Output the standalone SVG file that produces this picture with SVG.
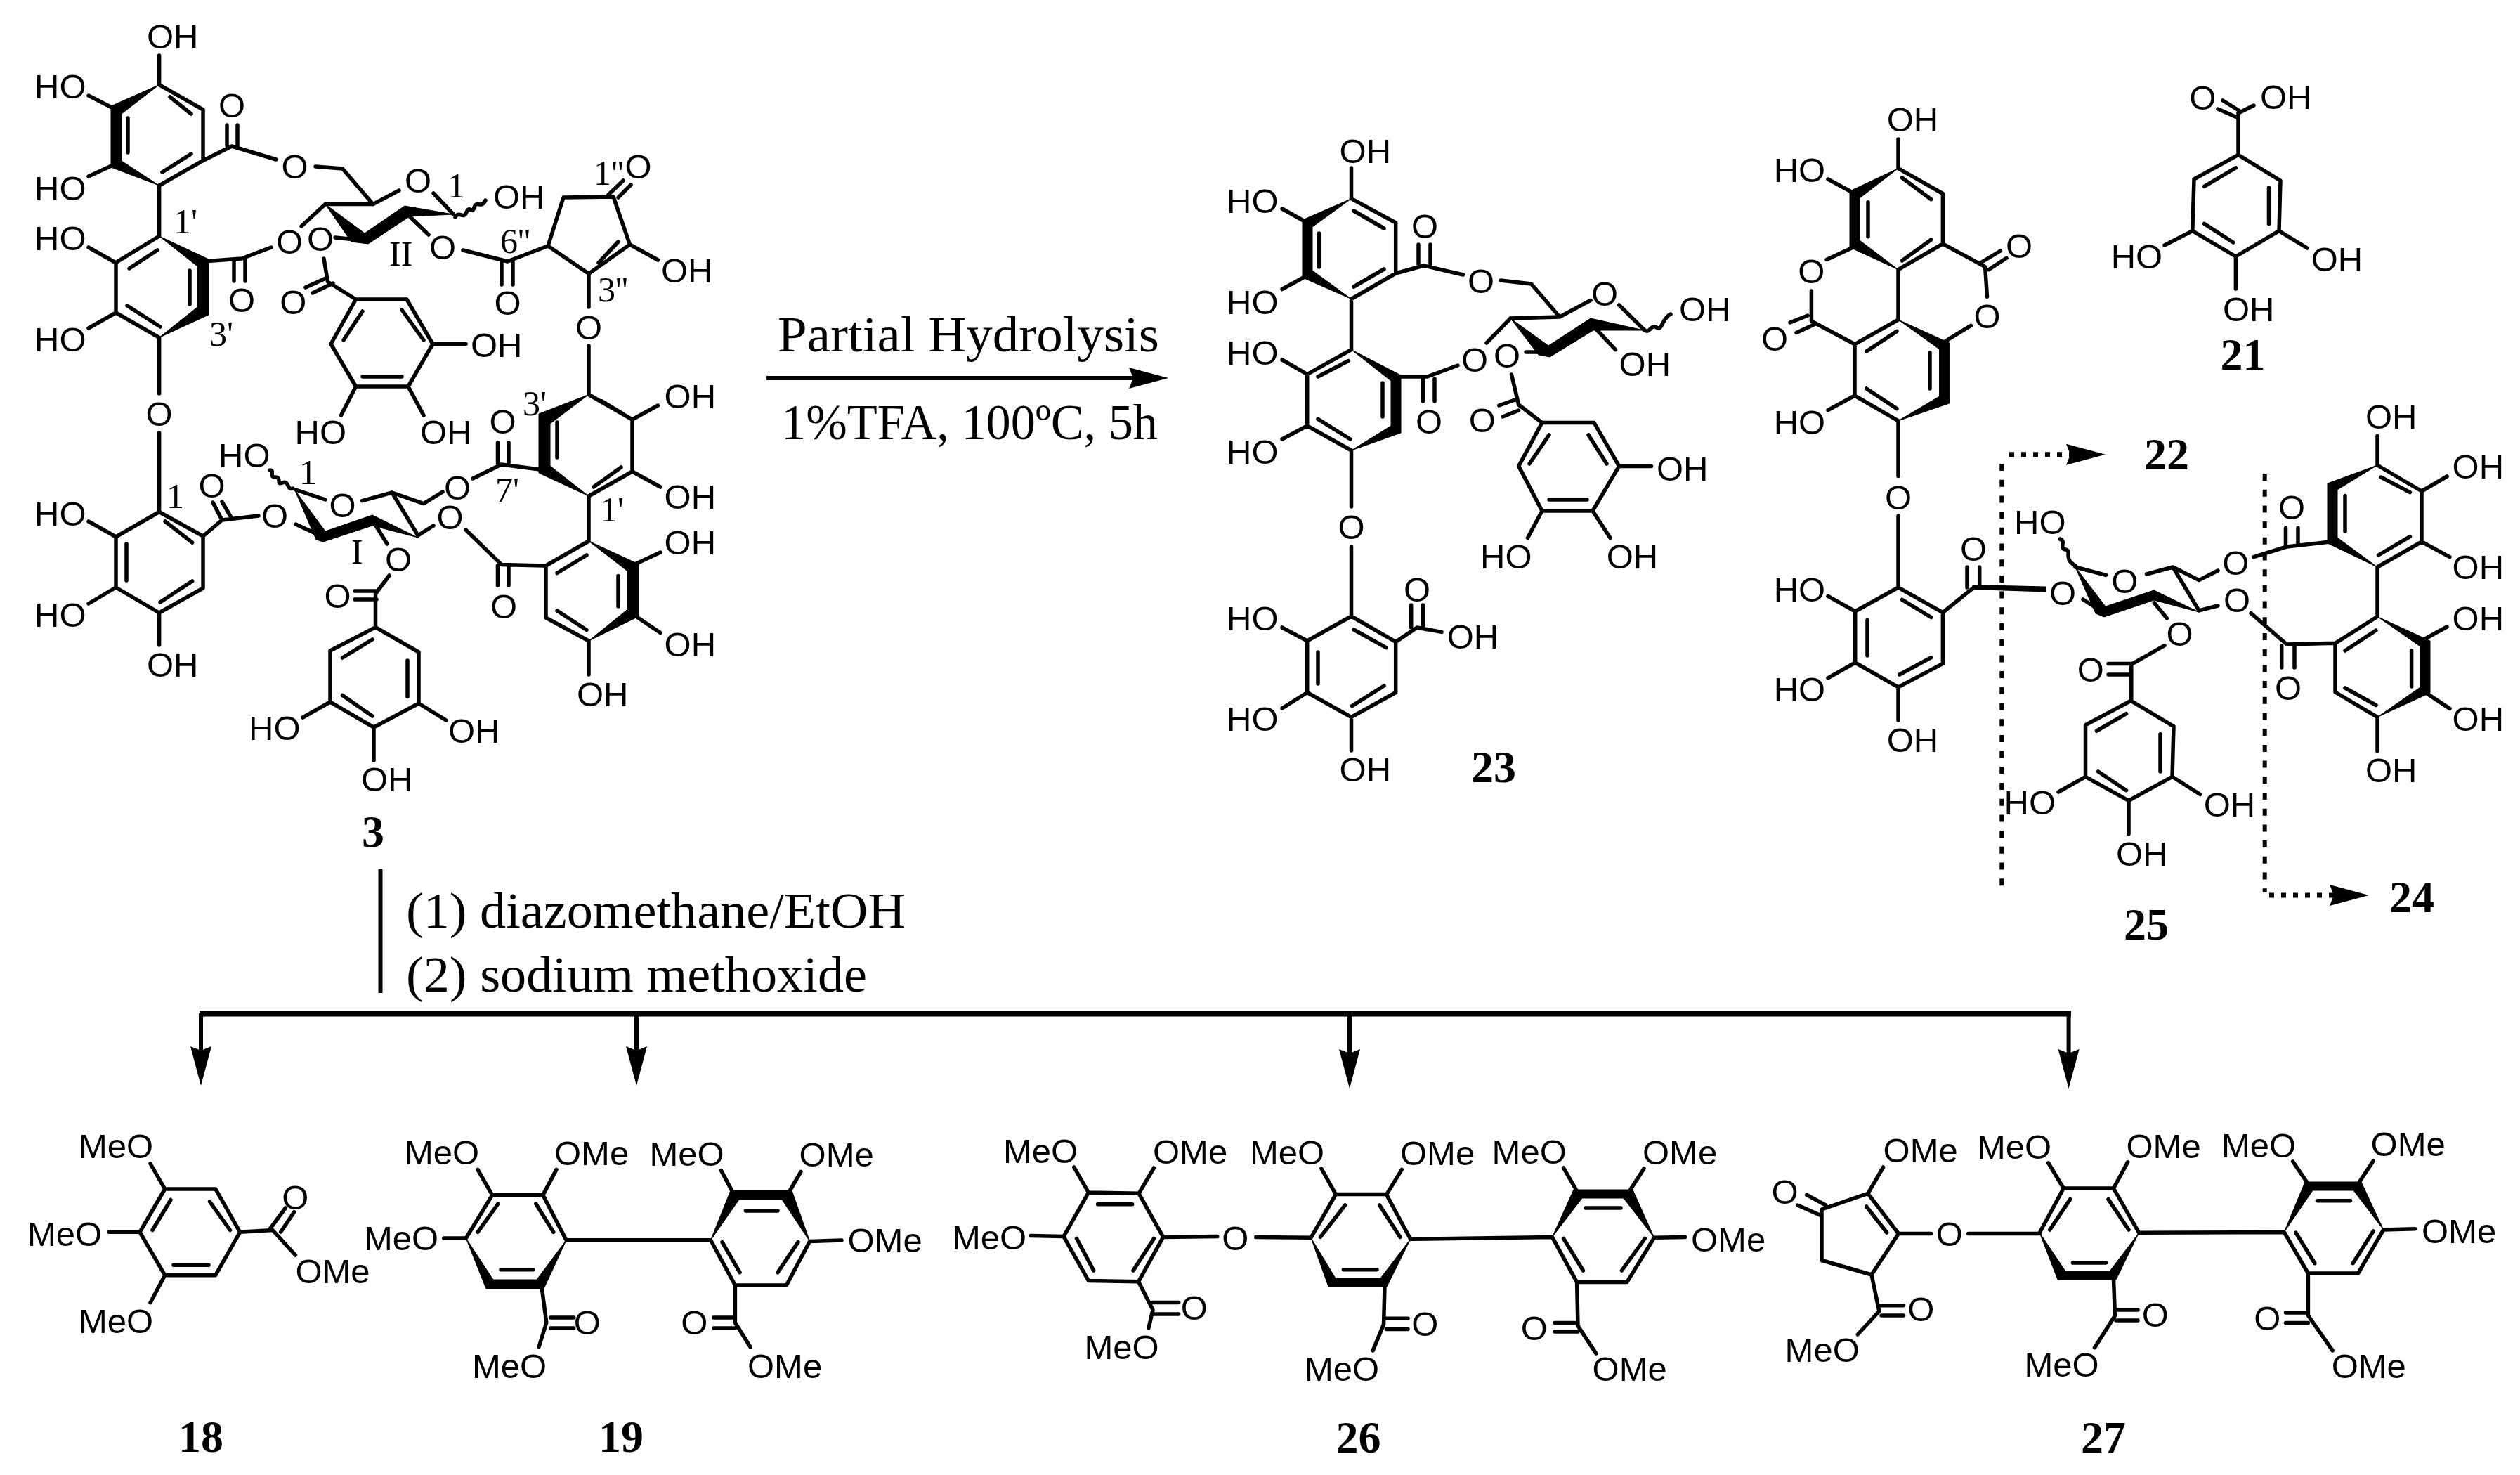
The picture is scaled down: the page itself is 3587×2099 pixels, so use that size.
<svg xmlns="http://www.w3.org/2000/svg" width="3587" height="2099" viewBox="0 0 3587 2099">
<style>
.b{fill:none;stroke:#000;stroke-width:5.5;stroke-linecap:round;stroke-linejoin:round}
.w{fill:#000;stroke:#000;stroke-width:1;stroke-linejoin:miter}
text{fill:#000}
.s{font-family:"Liberation Sans",Arial,sans-serif;font-size:49px}
.o{font-family:"Liberation Sans",Arial,sans-serif;font-size:49px;text-anchor:middle}
.l{font-family:"Liberation Serif","Times New Roman",serif;font-size:50px}
.n{font-family:"Liberation Serif","Times New Roman",serif;font-size:64px;font-weight:bold;text-anchor:middle}
.r{font-family:"Liberation Serif","Times New Roman",serif;font-size:72px}
.a{fill:none;stroke:#000;stroke-width:6;marker-end:url(#h)}
.d{fill:none;stroke:#000;stroke-width:6;stroke-dasharray:10 12.7}
.p{fill:none;stroke:#000;stroke-width:7;stroke-dasharray:7 10;marker-end:url(#h)}
</style>
<defs>
<marker id="h" markerUnits="userSpaceOnUse" markerWidth="60" markerHeight="34" refX="6" refY="17" orient="auto" overflow="visible"><path d="M0 2 L56 17 L0 32 L6 17 Z" fill="#000"/></marker>
</defs>

<g id="connectors">
<path class="a" d="M1091 538 H1613"/>
<path d="M541.5 1237 V1413" fill="none" stroke="#000" stroke-width="6"/>
<path d="M284 1442.5 H2948" fill="none" stroke="#000" stroke-width="8"/>
<path class="a" d="M286 1442 V1495"/>
<path class="a" d="M906 1442 V1495"/>
<path class="a" d="M1921 1442 V1499"/>
<path class="a" d="M2944.6 1442 V1499"/>
<path class="d" d="M2849.3 660 V1265"/>
<path class="d" d="M3223.7 674 V1270"/>
<path class="p" d="M2860 646.7 H2947"/>
<path class="p" d="M3230 1274 H3322"/>
</g>

<g id="reaction-labels">
<text class="r" x="1107" y="500" textLength="543" lengthAdjust="spacingAndGlyphs">Partial Hydrolysis</text>
<text class="r" x="1112" y="625" textLength="536" lengthAdjust="spacingAndGlyphs">1%TFA, 100ºC, 5h</text>
<text class="r" x="578" y="1320" textLength="711" lengthAdjust="spacingAndGlyphs">(1) diazomethane/EtOH</text>
<text class="r" x="578" y="1411" textLength="656" lengthAdjust="spacingAndGlyphs">(2) sodium methoxide</text>
</g>

<g id="compound-3">
<path class="b" d="M226.6 120.6L289 156V228.5L226.6 264M242 138L272 162M182 168V217M231 245L272 219M226.6 79V120.6M126 136L165 156M126 251L165 233M289 228.5L330 208L393 227M323 178V207M338 178V207M449 237L487.5 240L531 290.6L568 271M463 290.6H531M617 275L645 304.5M463 290.6L429 322M477 338L516 342M461 368L466.5 401L506.5 426H579L616 489.5L581 550H506.5L471 489.5L506.5 426M572 441L603 484M516 536H572M516 443L489 484M435 409L466 395M445 417L474 403M616 489.5H663M506.5 550L485.5 591M581 550L603 591"/>
<path class="b" d="M648 309C653 299 660 313 664 302S672 306 675 295S685 298 691 285"/>
<path class="b" d="M226.6 264V336M226.6 336L165 373.7V445L226.6 480.4M184 382L224 356M270 385V433M181 435L228 465M126 352L165 374M126 467L165 445M289 372L344 368L386 352M333 370V400M349 370V400M226.6 480.4V560M226.6 616V728.5"/>
<path class="b" d="M579 304L610 334M659 356L722.5 372L780 350L802 281L873 280L896.5 348L838 389.5L780 350M714 372V405M730 372V405M852 374L880 344M866 277L887 257M880 281L898 263M896.5 348L936.5 370M838 389.5V437M838 492V561.5"/>
<path class="b" d="M838 561.5L900 597V671L838 706M857 571L887 589M793 601V651M845 693L884 665M900 597L936.5 577M900 671L940 693M708.5 630V659M724 630V659M713.5 661L775 669M713.5 661L673 681M630 700L603 716.6L558 701L515.6 712.7M558 701L595 762M421 697L463 711M421 746L459.5 764M530 740L551 774M554 819L534.5 845V892.6L596 928V1001L532 1035L470 999V926L534.5 892.6M505 841H536M505 853H536M487.5 936L530 910M580 940V991.5M487.5 989.5L530 1019M470 999L431 1021M596 1001L635 1025M532 1035V1082"/>
<path class="b" d="M384 669C392 669 382 679 392 679S392 691 402 687S408 699 417 695"/>
<path class="b" d="M226.6 728.5L289 763V837L226.6 872L165 836V764L226.6 728.5M235 742L273.6 772M180 774V826M228 857L273.6 827M126 742L165 764M126 859L165 836M226.6 872V918M289 763L316 740L368 734M303 715L316 740M316 714L330 738"/>
<path class="b" d="M838 706V770M838 912L777 879V805L838 770M793 815.5L835 790M880 819.5V863M793 869L835 896.5M901.5 804L940 786M905 877L940 900.5M838 912V960M777 805L714 803.6L663 754M595 762L617 748M708.5 805V833M724 805V833"/>
<polygon class="w" points="226.6,120.6 158,151 158,238 226.6,264 173,229 173,162"/>
<polygon class="w" points="226.6,336 297,369 297,448 226.6,480.4 281,437 281,379"/>
<polygon class="w" points="838,561.5 767,589 767,673 838,706 783,663 783,603"/>
<polygon class="w" points="838,770 909.5,803 909.5,877 838,912 893.5,867 893.5,813"/>
<polygon class="w" points="463,290.6 500,344 524,347 583,308 645,305 576,293 519,332"/>
<polygon class="w" points="419.5,697 450,768 460,771 530,748 595,765 530,733 463,756"/>
<text class="s" x="209" y="69">OH</text><text class="s" x="49" y="140">HO</text><text class="s" x="49" y="285">HO</text>
<text class="o" x="330" y="167">O</text><text class="o" x="419.5" y="254">O</text><text class="o" x="595" y="274">O</text>
<text class="s" x="702" y="297">OH</text><text class="l" x="637" y="281">1</text>
<text class="o" x="412" y="361">O</text><text class="o" x="456" y="357">O</text><text class="o" x="417.4" y="447">O</text>
<text class="s" x="670" y="508">OH</text><text class="s" x="419.5" y="632">HO</text><text class="s" x="598" y="632">OH</text>
<text class="l" x="247" y="332">1'</text><text class="l" x="298" y="492">3'</text>
<text class="s" x="49" y="356">HO</text><text class="s" x="49" y="500">HO</text>
<text class="o" x="344" y="444">O</text><text class="o" x="226.6" y="606">O</text>
<text class="l" x="554" y="378">II</text><text class="o" x="630" y="369">O</text><text class="o" x="722.5" y="448">O</text>
<text class="l" x="712" y="360">6''</text><text class="o" x="908.5" y="254">O</text><text class="l" x="845" y="263">1''</text>
<text class="s" x="941" y="402">OH</text><text class="l" x="851" y="429">3''</text><text class="o" x="838" y="483">O</text>
<text class="l" x="744" y="591">3'</text><text class="s" x="945.6" y="581">OH</text><text class="s" x="945.6" y="724">OH</text>
<text class="o" x="715.5" y="617">O</text><text class="l" x="705" y="714">7'</text><text class="o" x="651" y="711">O</text>
<text class="o" x="487.5" y="736">O</text><text class="s" x="311" y="665">HO</text><text class="l" x="426" y="689">1</text>
<text class="o" x="391" y="751">O</text><text class="l" x="500" y="802">I</text><text class="o" x="567" y="813">O</text><text class="o" x="480.5" y="865">O</text>
<text class="s" x="354" y="1053">HO</text><text class="s" x="638" y="1057">OH</text><text class="s" x="514" y="1126">OH</text>
<text class="n" x="531" y="1205">3</text>
<text class="s" x="49" y="748">HO</text><text class="s" x="49" y="892">HO</text><text class="s" x="209" y="963">OH</text>
<text class="l" x="237" y="723">1</text><text class="o" x="301.6" y="708">O</text>
<text class="l" x="854" y="742">1'</text><text class="s" x="945.6" y="789">OH</text><text class="s" x="945.6" y="934">OH</text><text class="s" x="821" y="1005">OH</text>
<text class="o" x="640.5" y="753">O</text><text class="o" x="717" y="880">O</text>
</g>

<g id="compound-23">
<path class="b" d="M1923.5 282.7L1986.7 317V389L1923.5 425.5M1927 300L1970 325M1877.5 332V380M1927 408L1970 383M1923.5 239V282.7M1825 297L1860.7 317M1825 411.5L1860.7 392M1986.7 389L2026.5 378L2082.6 391M2019 348V376M2036 348V376M2136 399L2179.6 404L2220 451L2264 427.4M2150 453L2220 451M2304.6 434L2340 469M2266 462L2299.5 497.6M2172 501L2205 501M2150 453L2116 488M1923.5 425.5V497.6M1876 536L1919.4 513.5M1968 545V593M1876 596.4L1922 625M1825 512L1860.7 532.6M1825 625L1860.7 606M1923.5 497.6L1860.7 532.6V606L1923.5 641M1994 536L2031.6 536L2075 520M2025.5 539V571M2042 539V571M2151.5 533L2161.7 576L2195 601.5H2269L2304.6 663.4L2267 727H2195L2161.7 663.4L2195 601.5M2133.7 577L2159 568M2139 593L2161.7 584M2205 619L2177 660M2261 619L2287 660M2205 711H2259M2304.6 663.4H2350.5M2195 727L2174.5 765.4M2267 727L2292 765.4M1923.5 641V721M1923.5 778V877L1986.7 913.4V985.5L1923.5 1020.5L1860.7 985.5V912L1923.5 877M1927 896L1973 921.7M1876 928V973M1924.5 1004.6L1970 976M1825 893L1860.7 912M1825 1008L1860.7 985.5M1923.5 1020.5V1068M2008.7 861V893M2025.5 861V893M1986.7 913.4L2017 893L2052 899.4"/>
<path class="b" d="M2340 469C2348 477 2350 460 2358 466S2366 452 2378 447"/>
<polygon class="w" points="1923.5,282.7 1854,313 1854,395 1923.5,425.5 1868,385 1868,323"/>
<polygon class="w" points="1923.5,497.6 1994,534 1994,616 1923.5,641 1980,606 1980,542"/>
<polygon class="w" points="2150,453 2190,505 2206,508 2268,470 2340,470 2264,453 2204,492"/>
<text class="s" x="1906.6" y="232">OH</text><text class="s" x="1746" y="303">HO</text><text class="s" x="1746" y="447">HO</text>
<text class="o" x="2028" y="339">O</text><text class="o" x="2108" y="417">O</text><text class="o" x="2284" y="435">O</text>
<text class="s" x="2390" y="457">OH</text><text class="s" x="2304.6" y="535">OH</text><text class="o" x="2145" y="523">O</text><text class="o" x="2099" y="529">O</text>
<text class="s" x="1746" y="519">HO</text><text class="s" x="1746" y="660">HO</text><text class="o" x="2034" y="617">O</text><text class="o" x="2109.7" y="615">O</text>
<text class="s" x="2358" y="684">OH</text><text class="s" x="2107" y="809">HO</text><text class="s" x="2286.7" y="809">OH</text>
<text class="o" x="1923.5" y="767">O</text><text class="s" x="1746" y="897">HO</text><text class="s" x="1746" y="1040">HO</text><text class="s" x="1906.6" y="1112">OH</text>
<text class="o" x="2017" y="856">O</text><text class="s" x="2059.7" y="923">OH</text><text class="n" x="2126" y="1113">23</text>
</g>

<g id="compound-21">
<path class="b" d="M3164 143L3189.7 159M3157 155L3184 167M3186 161L3208 150M3186 163V220.4L3246 257L3244 328.6L3182.4 365L3120.8 328.6L3123 255L3186 220.4M3182.4 238.8L3137.5 265.3M3229.5 267.3V318.4M3137.5 318.4L3178.8 345M3120.8 328.6L3081 349M3244 328.6L3284 353M3182.4 365V411"/>
<text class="o" x="3135.3" y="156">O</text><text class="s" x="3217" y="155">OH</text><text class="s" x="3004.7" y="382">HO</text><text class="s" x="3289.7" y="386">OH</text><text class="s" x="3164" y="457">OH</text>
<text class="n" x="3192.5" y="526">21</text>
</g>

<g id="compound-22-25">
<path class="b" d="M2702 239.6L2765.4 275.5V347L2702 383.7M2707.4 253L2748.8 283.7M2659 287.8V336.7M2707.4 371L2748.8 341M2702 198V239.6M2602 255L2640 275.5M2600 369.4L2640 351M2578.4 414V457L2640 489.8M2548 459L2573 449M2557 473.5L2584 461M2702 383.7V455M2702 455L2640 489.8V563L2702 598.8M2656.7 500L2700 471.4M2747 502V553M2656.7 553L2700 581.6M2602 583.7L2640 563M2765.4 347L2825.6 379.6L2828.5 422.4M2820 373.5L2847.4 357M2830.7 383.7L2856 367.3M2805.3 463.3L2769 485.7M2702 598.8V677.6M2702 734.5V836L2765.4 871.7V944.4L2702 977.9L2640.7 943V870L2702 836M2707.4 853.3L2748.8 878.5M2658 882.4V933M2703.8 960L2748.8 935.7M2602 848.4L2640.7 870M2602 964.8L2640.7 943M2702 977.9V1025M2765.4 871.7L2809 836.3M2800 807V836M2817.7 807V836M2954 807L2997.5 818.4M3055.5 817L3093 807L3130 868.8M3093 807L3130 825.6L3157 812M2965 853L2994 871.7M3066.4 858L3084.5 880M3081 918.7L3033.8 945.4V997.7L3094 1033.6L3092 1105.3L3030 1139.3L2968.5 1105.3V1031.7L3032.3 997.7M3001 944.4H3034M3001 960H3034M2984.5 1040L3026.5 1015.7M3075 1044.7V1098M2986.6 1098L3026.5 1124.7M2968.5 1105.3L2930 1127M3092 1105.3L3131.7 1130.5M3030 1139.3V1186.8M3207.8 792.7L3255 778L3316.6 771M3253.5 751.5V776M3271 751.5V776M3384 662L3447 699V771L3384 807M3389 679L3430.4 700.6M3385.5 790L3430.4 763.6M3338 705.4V756.3M3384 620.4V662.5M3447 699L3483 678M3447 771L3487 792.7M3384 807V877.5M3384 1020.5L3324 985V915.3L3384 877.5M3338 926L3382 897M3432.6 926V977M3338 979L3382 1003.5M3452 909L3483 892M3454 986.6L3487 1008.4M3384 1020.5V1069M3324 915.3L3255 917L3204 872.7M3247.7 919V950M3266 919V950M3130 868.8L3157 862"/>
<path d="M2809 833.5L2910.5 836V841L2809 837.5Z" fill="#000" stroke="#000" stroke-width="3"/>
<path class="b" d="M2932 767C2942 770 2930 780 2940 782S2936 795 2954 805"/>
<polygon class="w" points="2702,239.6 2633,272 2633,352 2702,383.7 2647,342 2647,282"/>
<polygon class="w" points="2702,455 2774.6,488 2774.6,574 2702,598.8 2760.6,564 2760.6,497"/>
<polygon class="w" points="3384,662 3313,688 3313,773 3384,807 3327,765 3327,697"/>
<polygon class="w" points="3384,877.5 3459,912 3459,986 3384,1020.5 3445,978 3445,920"/>
<polygon class="w" points="2954,807 2983,873 2995,878 3066,854 3130,871 3066,840 2997,863"/>
<text class="s" x="2685.7" y="187">OH</text><text class="s" x="2524.7" y="259">HO</text><text class="o" x="2578.4" y="403">O</text><text class="o" x="2526" y="499">O</text>
<text class="s" x="2524.7" y="618">HO</text><text class="o" x="2874" y="367">O</text><text class="o" x="2828.5" y="467">O</text><text class="o" x="2702" y="725">O</text>
<text class="s" x="2524.7" y="856">HO</text><text class="s" x="2524.7" y="998">HO</text><text class="s" x="2685.7" y="1070">OH</text><text class="o" x="2809" y="798">O</text>
<text class="o" x="2936" y="861">O</text><text class="o" x="3024.3" y="844">O</text><text class="o" x="3182.4" y="818">O</text><text class="s" x="2867" y="760">HO</text>
<text class="o" x="3102.6" y="919">O</text><text class="o" x="2975.7" y="970">O</text><text class="s" x="2852.5" y="1159">HO</text><text class="s" x="3136.7" y="1162">OH</text><text class="s" x="3012" y="1232">OH</text>
<text class="o" x="3262" y="739">O</text><text class="s" x="3367" y="610">OH</text><text class="s" x="3490.6" y="681">OH</text><text class="s" x="3490.6" y="824">OH</text>
<text class="s" x="3490.6" y="897">OH</text><text class="s" x="3490.6" y="1040">OH</text><text class="s" x="3367" y="1113">OH</text><text class="o" x="3257" y="996">O</text><text class="o" x="3184" y="871">O</text>
</g>
<text id="label-22" class="n" x="3084" y="668">22</text>
<text id="label-24" class="n" x="3433" y="1298">24</text>
<text id="label-25" class="n" x="3055" y="1337">25</text>

<g id="compound-18">
<path class="b" d="M234.7 1692H306.8L341.6 1753.3L306.8 1814.7H234.7L199 1753.3Z M243 1707.5L217 1750.5M298.5 1710L327.5 1750.5M247 1800.3H297M214 1656L234.7 1692M155 1753.3H199M214 1853.7L234.7 1814.7M341.6 1753.3L388 1750.5L420.4 1786M383 1750.5L406.3 1719M399.7 1753L418.7 1724.7"/>
<text class="s" x="112" y="1648">MeO</text><text class="s" x="39" y="1773">MeO</text><text class="s" x="112" y="1897">MeO</text><text class="o" x="420.4" y="1721">O</text><text class="s" x="420.4" y="1826">OMe</text>
<text class="n" x="286" y="2066">18</text>
</g>

<g id="compound-19">
<path class="b" d="M663.3 1762L700.7 1700.6H772.8L806 1764.8M709 1713L680 1753.3M762.8 1713L787.7 1753.3M713 1806.7H758.7M680 1664.4L700.7 1700.6M792 1664.4L772.8 1700.6M631.8 1762H663.3M771 1830.7L777.8 1882.3L767 1916.8M783.6 1875H816.7M783.6 1890H816.7M806 1764.8H1011.6M1011.6 1764.8L1046.4 1829H1119.4L1152.6 1766.5M1061.4 1723H1107M1028 1767.6L1053 1810.7M1136 1767.6L1107 1810.7M1026.5 1665.6L1044.8 1700M1140 1667.3L1121 1700M1152.6 1766.5L1198 1765M1046.4 1829V1882.3L1068 1916.8M1015.7 1875H1046.4M1015.7 1890H1046.4"/>
<polygon class="w" points="663.3,1762 692,1834 774,1834 806,1764.8 764,1821 702,1821"/>
<polygon class="w" points="1011.6,1764.8 1040,1694 1127,1694 1152.6,1766.5 1113,1707 1052,1707"/>
<text class="s" x="576" y="1657">MeO</text><text class="s" x="789" y="1658">OMe</text><text class="s" x="518" y="1779">MeO</text><text class="o" x="835.8" y="1899">O</text><text class="s" x="672" y="1961">MeO</text>
<text class="s" x="924.5" y="1659">MeO</text><text class="s" x="1137.6" y="1660">OMe</text><text class="s" x="1206.5" y="1782">OMe</text><text class="o" x="988.4" y="1899">O</text><text class="s" x="1064" y="1961">OMe</text>
<text class="n" x="884" y="2066">19</text>
</g>

<g id="compound-26">
<path class="b" d="M1549.4 1697L1621 1698.3L1655.7 1760.4L1620.5 1823.8L1549.4 1822.5L1514 1759.6Z M1562.6 1713.7H1611.7M1532.5 1762.5L1556.7 1808M1642.5 1762.5L1613 1808M1528.8 1661L1549.4 1697M1642.5 1662L1621 1698.3M1467 1758.4L1514 1759.6M1655.7 1760.4L1732.7 1759.6M1787.7 1760.4L1864.7 1761.3M1620.5 1823.8L1641 1864L1635 1889.6M1641 1853.6H1677.7M1641 1870H1677.7M1866 1761.3L1901.4 1699.6H1973.3L2007.7 1763.3M1914.6 1715L1879.4 1760.4M1963.7 1715L1993 1760.4M1912.4 1806.8H1960M1880.9 1663L1901.4 1699.6M1995.3 1664.4L1973.3 1700.4M1971 1828.7L1969.6 1884.6L1954.2 1921.9M1973.3 1876.3H2004M1973.3 1891.6H2004M2007.7 1763.3L2209.4 1760.4L2244.6 1824.6H2315.8L2354.6 1761.3M2257 1719H2307M2225.6 1762.5L2253.4 1808M2341.4 1762.5L2308.4 1808M2225.6 1662L2244.6 1695M2340 1663L2319.4 1695M2354.6 1761.3L2398.7 1760.4M2244.6 1824.6L2246 1886.7L2271.8 1926M2213 1882.5H2246M2213 1895H2246"/>
<polygon class="w" points="1866,1761.3 1891,1831 1974,1831 2007.7,1763.3 1965,1819 1901,1819"/>
<polygon class="w" points="2209.4,1760.4 2240,1693 2324,1693 2354.6,1761.3 2311,1705 2252,1705"/>
<text class="s" x="1428" y="1655">MeO</text><text class="s" x="1641" y="1656">OMe</text><text class="s" x="1355" y="1778">MeO</text><text class="o" x="1758.4" y="1779">O</text><text class="o" x="1699.7" y="1878">O</text><text class="s" x="1543.5" y="1934">MeO</text>
<text class="s" x="1779" y="1657">MeO</text><text class="s" x="1993" y="1658">OMe</text><text class="o" x="2028.3" y="1901">O</text><text class="s" x="1857" y="1965">MeO</text>
<text class="s" x="2123.6" y="1656">MeO</text><text class="s" x="2338" y="1657">OMe</text><text class="s" x="2407" y="1781">OMe</text><text class="o" x="2183.8" y="1907">O</text><text class="s" x="2266.6" y="1965">OMe</text>
<text class="n" x="1933.5" y="2067">26</text>
</g>

<g id="compound-27">
<path class="b" d="M2658.8 1698.3L2702.4 1755.5L2664 1814L2593 1793.5V1721L2658.8 1698.3M2656.7 1717L2685.7 1754M2680.6 1661L2658.8 1698.3M2571.8 1700.4L2598.7 1715M2558.8 1715L2591.4 1729.4M2702.4 1755.5H2748.8M2801.7 1755.5H2903.2M2664 1814L2674.8 1866L2644.3 1899M2678 1857.7H2709.6M2678 1872H2709.6M2903.2 1754.2L2937.3 1691H3008.4L3044.6 1754.2M2946.7 1706.6L2917.7 1750M3001 1706.6L3030 1750M2950.4 1796.9H2997.5M2915.6 1654.9L2937.3 1691M3028.7 1653.6L3008.4 1691M3008.4 1818.4L3010.5 1872.2L2981.5 1917.7M3012 1864H3043M3012 1879H3043M3044.6 1754.2L3251.3 1753.4L3285.4 1812H3356.5L3392.7 1750M3298.4 1708.7H3345.6M3268 1754.2L3294.8 1797.7M3378.2 1752L3349.2 1797.7M3263.6 1652.8L3285.4 1684.7M3378.2 1652L3356.5 1684.7M3392.7 1750L3437.7 1748.8M3285.4 1812V1872L3320.2 1921.9M3253.5 1868H3285.4M3253.5 1882.5H3285.4"/>
<polygon class="w" points="2903.2,1754.2 2929,1821 3012,1821 3044.6,1754.2 3003,1809 2940,1809"/>
<polygon class="w" points="3251.3,1753.4 3281,1682 3361,1682 3392.7,1750 3350,1694 3292,1694"/>
<text class="s" x="2680.6" y="1654">OMe</text><text class="o" x="2540.6" y="1713">O</text><text class="o" x="2774.9" y="1773">O</text><text class="o" x="2734.3" y="1880">O</text><text class="s" x="2540.6" y="1938">MeO</text>
<text class="s" x="2814" y="1649">MeO</text><text class="s" x="3026.5" y="1648">OMe</text><text class="o" x="3067.8" y="1888">O</text><text class="s" x="2881.5" y="1959">MeO</text>
<text class="s" x="3162" y="1647">MeO</text><text class="s" x="3374.6" y="1645">OMe</text><text class="s" x="3447" y="1769">OMe</text><text class="o" x="3227.4" y="1893">O</text><text class="s" x="3318.7" y="1961">OMe</text>
<text class="n" x="2994" y="2067">27</text>
</g>
</svg>
